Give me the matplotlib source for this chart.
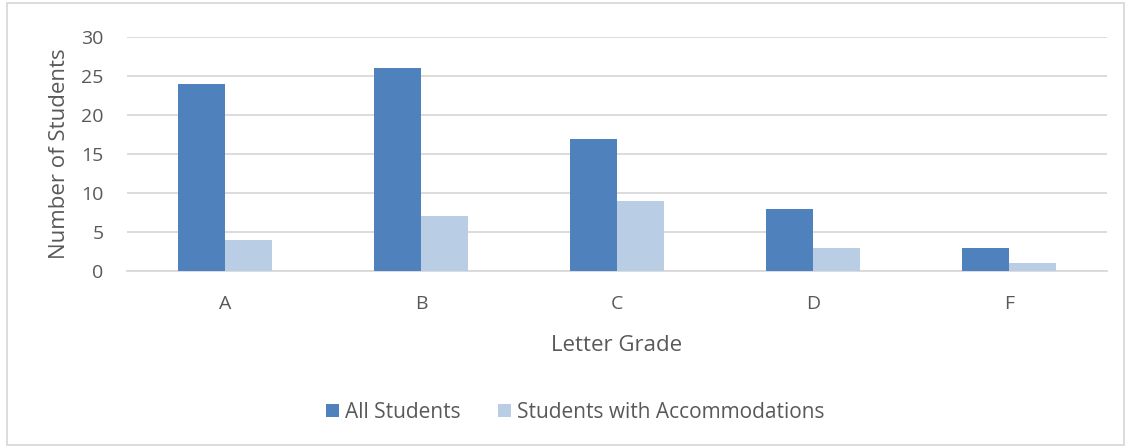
import matplotlib.pyplot as plt
import numpy as np
from matplotlib.patches import Rectangle

grades = ['A', 'B', 'C', 'D', 'F']
all_students = [24, 26, 17, 8, 3]
accommodations = [4, 7, 9, 3, 1]

plt.rcParams['font.family'] = ['Open Sans', 'DejaVu Sans']
text_color = '#595959'
grid_color = '#d9d9d9'

fig = plt.figure(figsize=(11.3, 4.48), dpi=100)
ax = fig.add_axes([0.1124, 0.395, 0.8672, 0.522])

x = np.arange(len(grades))
w = 0.24
ax.bar(x - w / 2, all_students, w, color='#4f81bd', label='All Students', zorder=3)
ax.bar(x + w / 2, accommodations, w, color='#b9cde5', label='Students with Accommodations', zorder=3)

ax.set_xlim(-0.5, len(grades) - 0.5)
ax.set_ylim(0, 30)
ax.set_yticks(range(0, 31, 5))
ax.set_xticks(x)
ax.set_xticklabels(grades)
ax.yaxis.grid(True, color=grid_color, linewidth=1.3, zorder=0)
for s in ['top', 'right', 'left']:
    ax.spines[s].set_visible(False)
ax.spines['bottom'].set_color(grid_color)
ax.spines['bottom'].set_linewidth(1.3)
ax.tick_params(length=0, labelsize=14, colors=text_color)
ax.tick_params(axis='x', pad=17)
ax.tick_params(axis='y', pad=17)

ax.set_xlabel('Letter Grade', fontsize=16, color=text_color, labelpad=16)
ax.set_ylabel('Number of Students', fontsize=16, color=text_color, labelpad=8)

fig.legend(loc='center', bbox_to_anchor=(0.509, 0.08), ncol=2, frameon=False,
           fontsize=15, labelcolor=text_color, handlelength=0.62, handleheight=0.62,
           columnspacing=1.8, handletextpad=0.3)

fig.patches.append(Rectangle((0.0062, 0.0067), 0.9885, 0.9866, transform=fig.transFigure,
                             fill=False, edgecolor=grid_color, linewidth=1.3))

fig.savefig('out.png', dpi=100)
